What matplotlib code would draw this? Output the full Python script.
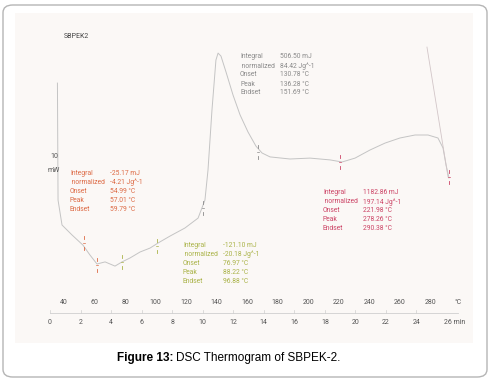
import matplotlib.pyplot as plt
from matplotlib.patches import FancyBboxPatch

# DSC curve (temperature in degC, heat flow in mW, arbitrary offset)
temp = [35.7, 36.1, 38.7, 45.2, 52.4, 57.0, 61.6, 66.9, 73.4, 78.0, 83.2, 89.8,
        96.3, 101.6, 109.4, 119.2, 127.8, 132.3, 134.3, 136.9, 139.5, 140.9,
        142.8, 146.1, 150.7, 155.3, 160.5, 165.7, 169.7, 174.9, 188.0, 201.1,
        214.2, 222.1, 230.6, 240.4, 250.2, 260.0, 269.9, 278.4, 284.9, 288.2,
        290.2, 292.1]
heat_flow = [52.3, 13.3, 5.0, 1.7, -1.7, -5.0, -8.0, -7.3, -8.7, -7.3, -6.0, -4.0,
             -2.7, -1.0, 1.3, 4.0, 7.3, 13.3, 23.3, 43.3, 60.0, 62.3,
             61.3, 56.0, 48.3, 41.7, 36.0, 31.3, 29.0, 27.7, 27.0, 27.3,
             26.7, 26.0, 27.3, 30.0, 32.3, 34.0, 35.0, 35.0, 34.0, 30.7,
             25.0, 20.7]
# faint trace at the right end
end_temp = [277.7, 291.5]
end_hf = [64.3, 21.0]

# integration limits of the four peaks
limit_temp = [[53.1, 61.6], [78.0, 100.9], [131.0, 167.0], [220.7, 292.1]]
limit_hf = [[-1.0, -8.3], [-7.3, -2.0], [10.7, 29.3], [26.0, 21.0]]

labels = ["Integral", " normalized", "Onset", "Peak", "Endset"]
peak_values = [
    ["-25.17 mJ", "-4.21 Jg^-1", "54.99 °C", "57.01 °C", "59.79 °C"],
    ["-121.10 mJ", "-20.18 Jg^-1", "76.97 °C", "88.22 °C", "96.88 °C"],
    ["506.50 mJ", "84.42 Jg^-1", "130.78 °C", "136.28 °C", "151.69 °C"],
    ["1182.86 mJ", "197.14 Jg^-1", "221.98 °C", "278.26 °C", "290.38 °C"],
]
# position of each result block (temperature, heat flow of first line)
block_pos = [(43.9, 22.3), (117.9, -1.7), (155.3, 61.0), (209.6, 15.7)]
block_colors = ["#dd6a45", "#aab348", "#8a8a8a", "#cc4466"]

temp_ticks = [40, 60, 80, 100, 120, 140, 160, 180, 200, 220, 240, 260, 280]
time_ticks = [0, 2, 4, 6, 8, 10, 12, 14, 16, 18, 20, 22, 24]

plt.rcParams['font.family'] = ['Roboto', 'DejaVu Sans']

W, H = 491, 381
fig = plt.figure(figsize=(W / 100, H / 100), dpi=100)
fig.patch.set_facecolor('white')

# rounded frame round the whole picture
frame = FancyBboxPatch((3 / W, 4 / H), 484 / W, 372 / H,
                       boxstyle="round,pad=0,rounding_size=0.02",
                       transform=fig.transFigure, facecolor='none',
                       edgecolor='#b5b5b5', linewidth=1.0, zorder=5)
fig.patches.append(frame)

# scanned plot area
x0, x1, y0, y1 = 15, 473, 13, 343
ax = fig.add_axes([x0 / W, 1 - y1 / H, (x1 - x0) / W, (y1 - y0) / H])
ax.set_facecolor('#fbf8f6')
for s in ax.spines.values():
    s.set_visible(False)
ax.set_xticks([])
ax.set_yticks([])
# pixel x -> degC : T = 40 + (x - 64) / 1.527 ; pixel y -> mW : (240 - y) / 3
ax.set_xlim(40 + (x0 - 64) / 1.527, 40 + (x1 - 64) / 1.527)
ax.set_ylim((240 - y1) / 3, (240 - y0) / 3)

ax.plot(temp, heat_flow, color='#c4c4c4', lw=0.7)
ax.plot(end_temp, end_hf, color='#d2c6c8', lw=0.6)

for lt, lh, c in zip(limit_temp, limit_hf, block_colors):
    for t, h in zip(lt, lh):
        ax.plot([t, t], [h + 1.3, h + 2.3], color=c, lw=0.6)
        ax.plot([t, t], [h - 2.3, h - 1.3], color=c, lw=0.6)
        ax.plot([t - 0.6, t + 0.6], [h, h], color=c, lw=0.5)

for (bx, by), vals, c in zip(block_pos, peak_values, block_colors):
    for i, (lab, v) in enumerate(zip(labels, vals)):
        ax.text(bx, by - i * 3.0, lab, color=c, fontsize=4.9, va='center', ha='left')
        ax.text(bx + 26.2, by - i * 3.0, v, color=c, fontsize=4.9, va='center', ha='left')

ax.text(40.0, 67.7, "SBPEK2", color='#444444', fontsize=5, va='center')
ax.text(30.8, 27.7, "10", color='#555555', fontsize=5, va='center')
ax.text(29.4, 23.3, "mW", color='#555555', fontsize=5, va='center')

# temperature / time scale at the bottom
axis_hf = (240 - 313) / 3
ax.plot([30.8, 298.0], [axis_hf, axis_hf], color='#cfcfcf', lw=0.6)
for T in temp_ticks:
    ax.text(T, (240 - 303) / 3, str(T), color='#555555', fontsize=5, ha='center', va='center')
ax.text(298.0, (240 - 303) / 3, "°C", color='#555555', fontsize=5, ha='center', va='center')
for t in time_ticks:
    T = 30.83 + 10 * t
    ax.plot([T, T], [axis_hf, axis_hf + 1.0], color='#cfcfcf', lw=0.5)
    ax.text(T, (240 - 323) / 3, str(t), color='#555555', fontsize=5, ha='center', va='center')
ax.text(30.83 + 258, (240 - 323) / 3, "26 min", color='#555555', fontsize=5, ha='left', va='center')

# caption: bold lead-in, then the rest right after it
cap1 = fig.text(117 / W, 1 - 358 / H, "Figure 13:", fontsize=8.5, fontweight='bold',
                family='Liberation Sans', va='center', ha='left')
fig.canvas.draw()
bb = cap1.get_window_extent()
fig.text((bb.x1 + 3) / W, 1 - 358 / H, "DSC Thermogram of SBPEK-2.", fontsize=8.5,
         family='Liberation Sans', va='center', ha='left')

fig.savefig('out.png', dpi=100)
